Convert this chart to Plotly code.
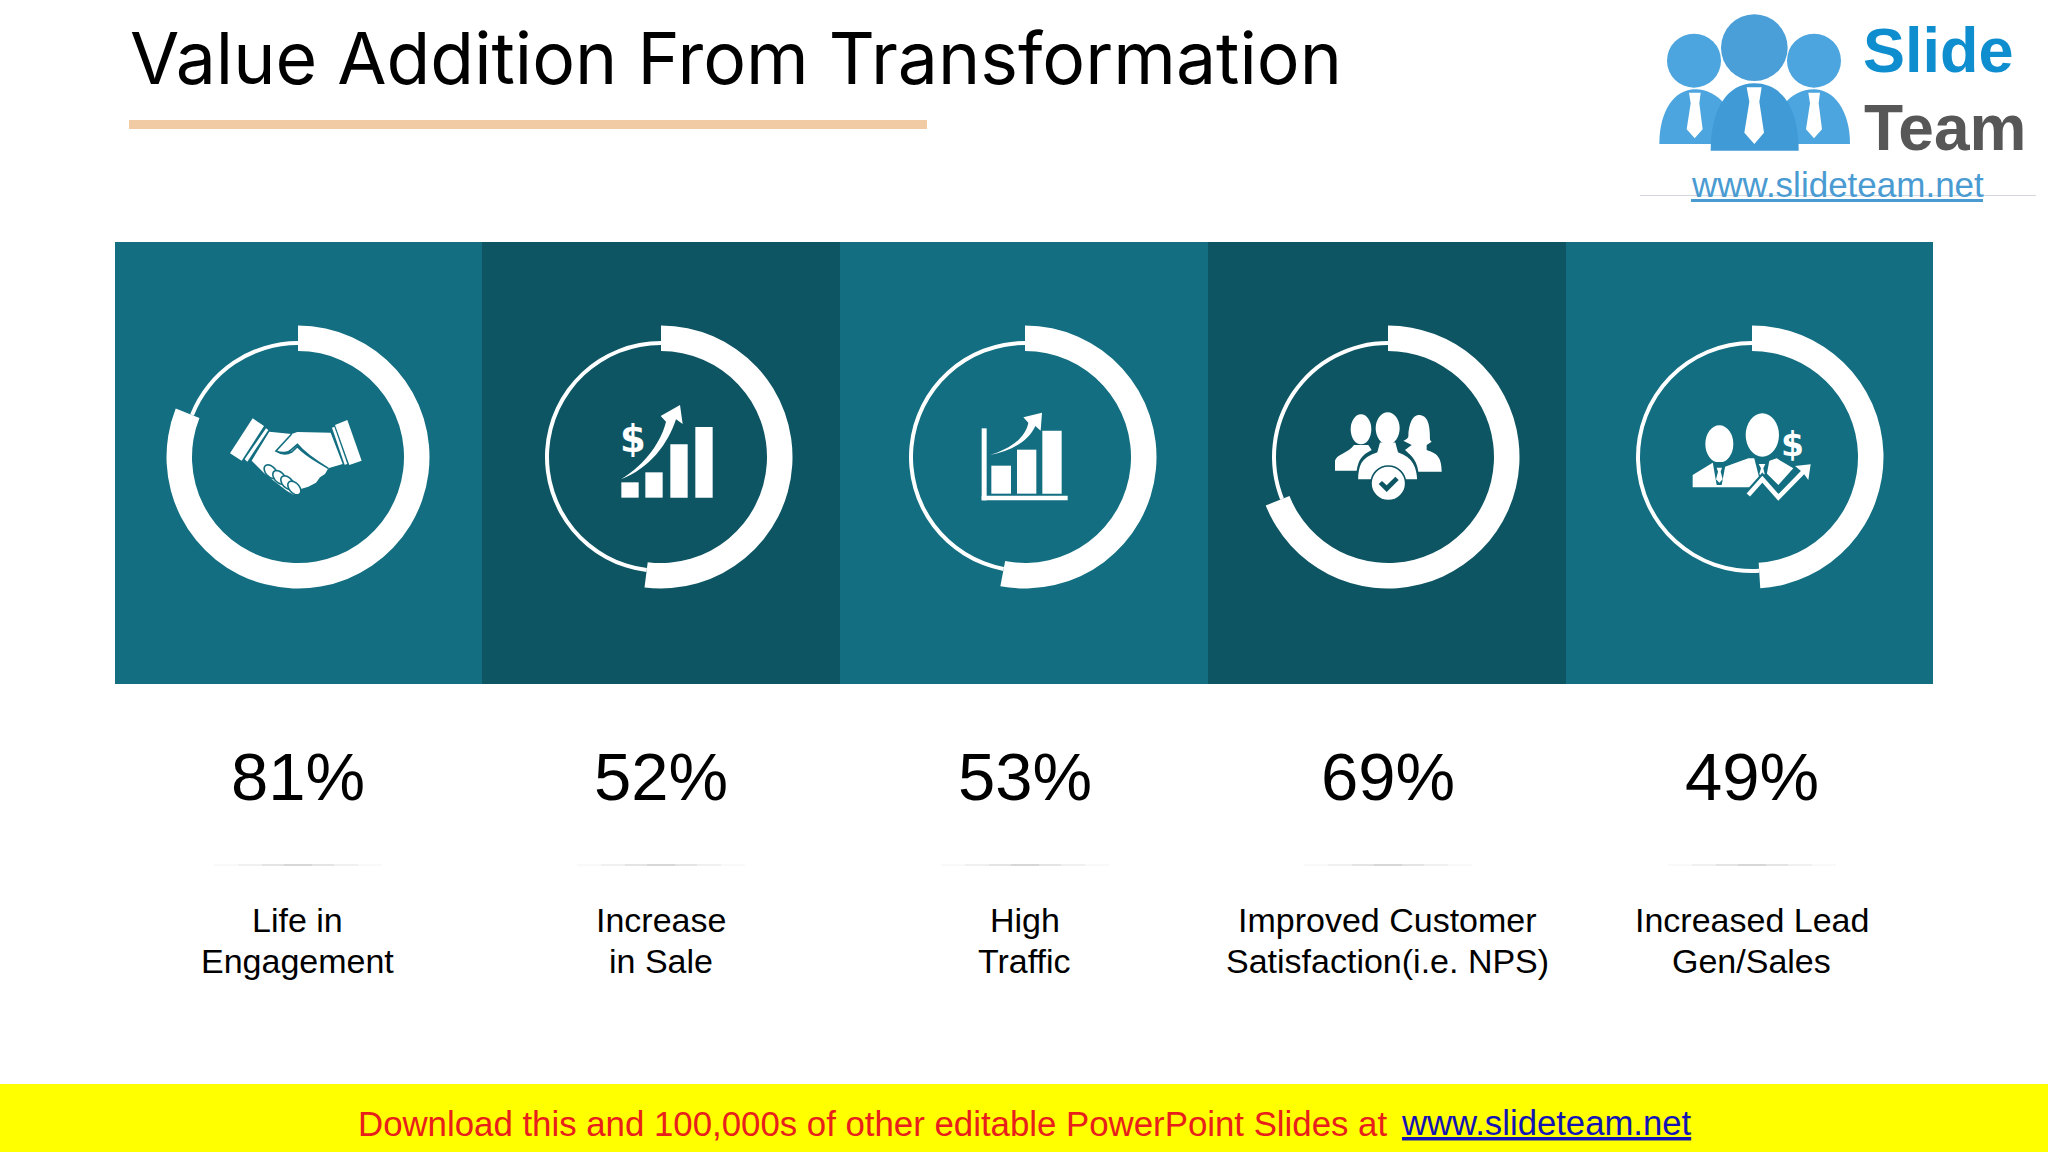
import re
import numpy as np
import plotly.graph_objects as go

# chart data
metric_labels_top = ["Life in", "Increase", "High", "Improved Customer", "Increased Lead"]
metric_labels_bottom = ["Engagement", "in Sale", "Traffic", "Satisfaction(i.e. NPS)", "Gen/Sales"]
metric_values = [81, 52, 53, 69, 49]

title_text = "Value Addition From Transformation"
footer_text = "Download this and 100,000s of other editable PowerPoint Slides at "
footer_link = "www.slideteam.net"

# layout, everything is in page pixels (x axis 0-2048, y axis 1152-0)
W, H = 2048, 1152
panel_edges = [115, 482, 840, 1208, 1566, 1933]
ring_x = [298, 661, 1025, 1388, 1752]
RING_Y = 457
OUTER_R, INNER_R = 131.5, 106
THIN_R, THIN_HOLE = 116, 112

TEAL = "#126E80"
DARK = "#0E5563"
WHITE = "#FFFFFF"
LOGO_BLUE = "#4CA5DE"

shapes = []
annotations = []


def text(x, y, s, size, color="#000000", font="Liberation Sans", anchor="center", **font_kw):
    annotations.append(dict(x=x, y=y, text=s, showarrow=False, xanchor=anchor, yanchor="middle",
                            font=dict(size=size, color=color, family=font, **font_kw)))


def rect(x0, y0, x1, y1, color, layer="above"):
    shapes.append(dict(type="rect", x0=x0, y0=y0, x1=x1, y1=y1, fillcolor=color,
                       line_width=0, layer=layer))


def line(x0, y0, x1, y1, color, width):
    shapes.append(dict(type="line", x0=x0, y0=y0, x1=x1, y1=y1,
                       line=dict(color=color, width=width), layer="above"))


def crop_path(ox, oy, d):
    out = []
    for tok in re.findall(r"[MLCZ]|-?\d+\.?\d*\s+-?\d+\.?\d*", d):
        if tok in "MLCZ":
            out.append(tok)
        else:
            a, b = tok.split()
            out.append(f"{ox + float(a) / 3:.2f},{oy + float(b) / 3:.2f}")
    return " ".join(out)


def icon(ox, oy, d, fill=WHITE, stroke=None, width=0):
    shapes.append(dict(type="path", path=crop_path(ox, oy, d), fillcolor=fill,
                       line=dict(color=stroke or "rgba(0,0,0,0)", width=width), layer="above"))


def oval(ox, oy, cx, cy, rx, ry, fill=WHITE, stroke=None, width=0):
    shapes.append(dict(type="circle", x0=ox + (cx - rx) / 3, x1=ox + (cx + rx) / 3,
                       y0=oy + (cy - ry) / 3, y1=oy + (cy + ry) / 3, fillcolor=fill,
                       line=dict(color=stroke or "rgba(0,0,0,0)", width=width), layer="above"))


def finger(ox, oy, cx, cy, rx, ry, angle, bg):
    # rotated oval for the handshake fingers
    t = np.linspace(0, 2 * np.pi, 30)
    a = np.radians(angle)
    xs = cx + rx * np.cos(t) * np.cos(a) - ry * np.sin(t) * np.sin(a)
    ys = cy + rx * np.cos(t) * np.sin(a) + ry * np.sin(t) * np.cos(a)
    d = "M" + " L".join(f"{x:.1f} {y:.1f}" for x, y in zip(xs, ys)) + " Z"
    icon(ox, oy, d, WHITE, bg, 1.6)


# panels
for i in range(5):
    rect(panel_edges[i], 242, panel_edges[i + 1], 684, DARK if i % 2 else TEAL, layer="below")

# heading
text(128, 58, title_text, 71.5, font="Inter", anchor="left")
rect(129, 120, 927, 129, "#F0CBA3")

# ---------- logo ----------
LX, LY = 1620, 0
for d in ["M118 432 C118 330 165 268 225 268 C262 268 290 285 312 310 L280 432 Z",
          "M690 432 C690 330 640 268 582 268 C545 268 515 285 495 310 L530 432 Z"]:
    icon(LX, LY, d, LOGO_BLUE)
icon(LX, LY, "M272 452 C272 330 320 250 403 250 C490 250 536 330 536 452 Z", "#3F9AD6")
oval(LX, LY, 222, 182, 81, 81, LOGO_BLUE)
oval(LX, LY, 582, 182, 81, 81, LOGO_BLUE)
oval(LX, LY, 403, 143, 100, 100, "#4A9FD8")
for d in ["M207 278 L242 278 L238 310 L248 388 L224 415 L200 388 L212 310 Z",
          "M380 262 L425 262 L418 305 L432 398 L403 432 L373 398 L388 305 Z",
          "M565 278 L600 278 L596 310 L606 388 L582 415 L558 388 L570 310 Z"]:
    icon(LX, LY, d, WHITE)
text(1938, 50, "Slide", 63, "#0F8ECF", weight="bold")
text(1945, 128, "Team", 64, "#575757", weight="bold")
text(1837, 184, footer_link, 35, "#4A9BD2")
rect(1691, 199, 1983, 202, "#4A9BD2")
rect(1640, 195, 2036, 196, "#D4D8DC")

# ---------- icon 1, handshake ----------
ox, oy = 210, 390
icon(ox, oy, "M128 85 L162 108 L95 212 L60 190 Z")
icon(ox, oy, "M168 115 L175 120 L112 215 L104 208 Z")
icon(ox, oy, "M412 90 L455 212 L418 225 L375 105 Z")
icon(ox, oy, "M366 113 L373 110 L412 222 L404 224 Z")
icon(ox, oy, "M178 125 L245 132 L262 126 L362 128 L398 222 L355 235 L345 252 L330 262 L318 278 "
             "L295 290 L270 298 L250 314 L230 302 L165 252 L125 212 Z")
icon(ox, oy, "M245 132 L198 183 C215 190 235 190 245 178 L262 163 C280 185 305 205 355 235 "
             "C315 210 290 200 262 170 L245 186 C230 194 212 192 198 183 Z", WHITE, TEAL, 1.6)
for cx, cy in [(182, 245), (208, 262), (232, 278), (253, 294)]:
    finger(ox, oy, cx, cy, 24, 15, 48, TEAL)

# ---------- icon 2, dollar and bars ----------
ox, oy = 590, 390
for x0, y0, x1 in [(94, 277, 146), (166, 247, 218), (241, 163, 293), (316, 111, 368)]:
    rect(ox + x0 / 3, oy + y0 / 3, ox + x1 / 3, oy + 323 / 3, WHITE)
icon(ox, oy, "M93 268 C170 220 215 150 228 95 L212 78 L270 45 L278 102 L258 88 C235 160 180 235 93 268 Z")
text(ox + 130 / 3, oy + 148 / 3, "$", 37, WHITE, "DejaVu Sans", weight="bold")

# ---------- icon 3, axis and bars ----------
ox, oy = 960, 400
for x0, y0, x1 in [(94, 197, 153), (171, 149, 229), (247, 92, 305)]:
    rect(ox + x0 / 3, oy + y0 / 3, ox + x1 / 3, oy + 281 / 3, WHITE)
rect(ox + 65 / 3, oy + 85 / 3, ox + 80 / 3, oy + 301 / 3, WHITE)
rect(ox + 65 / 3, oy + 287 / 3, ox + 323 / 3, oy + 301 / 3, WHITE)
icon(ox, oy, "M90 165 C140 150 195 120 205 68 L190 52 L246 38 L242 92 L226 78 C205 125 150 155 90 165 Z")

# ---------- icon 4, team and check ----------
ox, oy = 1320, 400
oval(ox, oy, 123, 88, 31, 45)
icon(ox, oy, "M45 212 L45 182 C50 162 85 160 102 135 L145 135 L155 150 C125 165 115 180 110 212 Z")
icon(ox, oy, "M265 110 C265 70 280 45 295 45 C325 45 330 75 330 120 L335 125 L320 135 L320 150 "
             "C350 160 365 170 365 215 L295 215 C290 175 265 160 255 150 L275 135 L250 122 C262 118 265 110 265 110 Z")
icon(ox, oy, "M112 240 C112 200 120 170 170 155 L178 125 L228 125 L236 155 C280 170 292 200 294 240 Z",
     WHITE, DARK, 1.6)
oval(ox, oy, 203, 85, 36, 48)
oval(ox, oy, 205, 250, 52, 52, WHITE, DARK, 1.6)
icon(ox, oy, "M176 252 L186 243 L200 256 L226 230 L236 240 L200 276 Z", DARK)

# ---------- icon 5, people and growth ----------
ox, oy = 1680, 400
icon(ox, oy, "M38 262 L38 225 L98 188 L135 200 L205 175 L225 175 L247 190 L290 175 L340 205 L295 255 L255 215 L210 262 Z")
oval(ox, oy, 118, 132, 42, 56)
oval(ox, oy, 247, 105, 50, 65)
icon(ox, oy, "M98 186 L138 186 L125 255 L110 255 Z", TEAL)
icon(ox, oy, "M110 203 L126 203 L122 215 L128 238 L118 248 L108 238 L114 215 Z")
icon(ox, oy, "M222 172 L270 172 L258 235 L238 235 Z", TEAL)
icon(ox, oy, "M236 192 L256 192 L250 205 L254 222 L246 232 L238 222 L243 205 Z")
text(ox + 336 / 3, oy + 133 / 3, "$", 33, WHITE, "DejaVu Sans", weight="bold")
zig = "M205 285 L247 238 L295 292 L380 205"
for col, wd in [(TEAL, 9), (WHITE, 4.6)]:
    shapes.append(dict(type="path", path=crop_path(ox, oy, zig),
                       line=dict(color=col, width=wd), layer="above"))
icon(ox, oy, "M345 198 L392 193 L385 240 L372 222 L362 212 Z")

# numbers, dividers and captions under the panels
for i, cx in enumerate(ring_x):
    tx = cx - 0.5
    text(tx, 776, f"{metric_values[i]}%", 67)
    for half, col in [(84, "#F7F7F7"), (60, "#EDEDED"), (36, "#E0E0E0"), (14, "#D2D2D2")]:
        line(cx - half, 865, cx + half, 865, col, 1.4)
    text(tx, 920, metric_labels_top[i], 34)
    text(tx, 961, metric_labels_bottom[i], 34)

# footer strip
rect(0, 1084, W, 1152, "#FFFF00")
text(1399, 1123, footer_text, 34.8, "#E8201C", anchor="right")
text(1399, 1123, footer_link, 34.7, "#1414B4", anchor="left", lineposition="under")

fig = go.Figure()


def ring(cx, r, hole, colors, value):
    fig.add_trace(go.Pie(values=[value, 100 - value], hole=hole, sort=False, direction="clockwise",
                         rotation=0, textinfo="none", hoverinfo="skip", showlegend=False,
                         marker=dict(colors=colors, line=dict(width=0)),
                         domain=dict(x=[(cx - r) / W, (cx + r) / W],
                                     y=[1 - (RING_Y + r) / H, 1 - (RING_Y - r) / H])))


for cx, v in zip(ring_x, metric_values):
    ring(cx, OUTER_R, INNER_R / OUTER_R, [WHITE, "rgba(0,0,0,0)"], v)
    ring(cx, THIN_R, THIN_HOLE / THIN_R, ["rgba(0,0,0,0)", WHITE], v)

fig.update_layout(width=W, height=H, margin=dict(l=0, r=0, t=0, b=0),
                  paper_bgcolor=WHITE, plot_bgcolor=WHITE,
                  shapes=shapes, annotations=annotations,
                  xaxis=dict(range=[0, W], visible=False, fixedrange=True),
                  yaxis=dict(range=[H, 0], visible=False, fixedrange=True))
# the cartesian axes only show up when a trace uses them
fig.add_trace(go.Scatter(x=[0, W], y=[0, H], mode="none", hoverinfo="skip", showlegend=False))

fig.write_html("out.html", config={"displayModeBar": False},
               post_script="document.body.style.margin='0';")
